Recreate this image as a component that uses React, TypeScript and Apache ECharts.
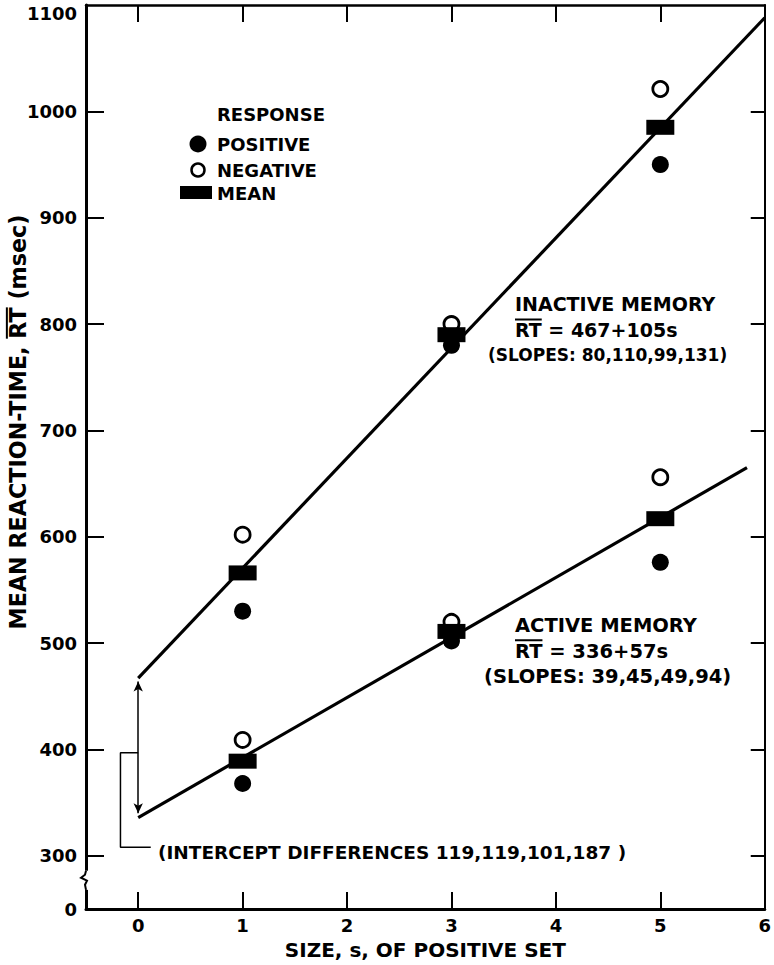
import React, { useEffect, useRef } from "react";
import * as echarts from "echarts";

// ---- data ----
const setSizes = [1, 3, 5];
const inactivePositive = [530, 780, 950];
const inactiveNegative = [602, 800, 1021];
const inactiveMean = [566, 790, 985];
const activePositive = [368, 502, 576];
const activeNegative = [409, 520, 656];
const activeMean = [389, 511, 617];
const inactiveLineS = [0, 6];
const inactiveLineRT = [467, 1088];
const activeLineS = [0, 5.83];
const activeLineRT = [336, 665];
const interceptArrowRT = [464, 340];
const bracketS = [0, -0.17, -0.17, 0.12];
const bracketRT = [397, 397, 308, 308];
const xTickValues = [0, 1, 2, 3, 4, 5, 6];
const yTickValues = [300, 400, 500, 600, 700, 800, 900, 1000];
const yLabelValues = [250, 300, 400, 500, 600, 700, 800, 900, 1000];
const yBreakValue = 250;
const yBreakLabel = "0";
const yTopLabel = "1100";

const FONT = "DejaVu Sans";

function measure(text: string, size: number): number {
  const ctx = document.createElement("canvas").getContext("2d")!;
  ctx.font = `bold ${size}px '${FONT}'`;
  return ctx.measureText(text).width;
}

function pairs(xs: number[], ys: number[]) {
  return xs.map((x, i) => [x, ys[i]]);
}

export default function App() {
  const ref = useRef<HTMLDivElement>(null);
  useEffect(() => {
    if (!ref.current) return;
    const chart = echarts.init(ref.current, null, { renderer: "svg" });
    const black = "#000";
    const labelStyle = { color: black, fontFamily: FONT, fontWeight: "bold" as const, fontSize: 18 };
    const option: any = {
      animation: false,
      backgroundColor: "#fff",
      grid: { left: 86, right: 2, top: 5, bottom: 52 },
      xAxis: [
        {
          type: "value", min: -0.5, max: 6, position: "bottom",
          axisLine: { onZero: false, lineStyle: { color: black, width: 3 } },
          axisTick: { show: true, inside: true, length: 17, customValues: xTickValues, lineStyle: { color: black, width: 2 } },
          axisLabel: { ...labelStyle, customValues: xTickValues, margin: 7 },
          splitLine: { show: false },
          name: "SIZE, s, OF POSITIVE SET", nameLocation: "middle", nameGap: 31,
          nameTextStyle: { ...labelStyle, fontSize: 20 },
        },
        {
          type: "value", min: -0.5, max: 6, position: "top",
          axisLine: { onZero: false, lineStyle: { color: black, width: 2.5 } },
          axisTick: { show: true, inside: true, length: 17, customValues: xTickValues, lineStyle: { color: black, width: 2 } },
          axisLabel: { show: false },
          splitLine: { show: false },
        },
      ],
      yAxis: [
        {
          type: "value", min: 250, max: 1100, position: "left",
          axisLine: { onZero: false, lineStyle: { color: black, width: 3 } },
          axisTick: { show: true, inside: true, length: 18, customValues: yTickValues, lineStyle: { color: black, width: 2 } },
          axisLabel: {
            ...labelStyle, customValues: yLabelValues, margin: 9,
            formatter: (v: number) => (v === yBreakValue ? yBreakLabel : String(v)),
          },
          splitLine: { show: false },
        },
        {
          type: "value", min: 250, max: 1100, position: "right",
          axisLine: { onZero: false, lineStyle: { color: black, width: 2 } },
          axisTick: { show: true, inside: true, length: 14, customValues: yTickValues, lineStyle: { color: black, width: 2 } },
          axisLabel: { show: false },
          splitLine: { show: false },
        },
      ],
      series: [
        {
          name: "NEGATIVE", type: "scatter", z: 2, symbol: "circle", symbolSize: 15,
          itemStyle: { color: "#fff", borderColor: black, borderWidth: 2.8, opacity: 1 },
          data: [...pairs(setSizes, inactiveNegative), ...pairs(setSizes, activeNegative)],
        },
        {
          name: "POSITIVE", type: "scatter", z: 3, symbol: "circle", symbolSize: 17,
          itemStyle: { color: black, opacity: 1 },
          data: [...pairs(setSizes, inactivePositive), ...pairs(setSizes, activePositive)],
        },
        {
          name: "MEAN", type: "scatter", z: 4, symbol: "rect", symbolSize: [28, 15],
          itemStyle: { color: black, opacity: 1 },
          data: [...pairs(setSizes, inactiveMean), ...pairs(setSizes, activeMean)],
        },
        {
          name: "INACTIVE MEMORY", type: "line", z: 5, showSymbol: false, symbol: "none",
          lineStyle: { color: black, width: 3.2 },
          data: pairs(inactiveLineS, inactiveLineRT),
        },
        {
          name: "ACTIVE MEMORY", type: "line", z: 5, showSymbol: false, symbol: "none",
          lineStyle: { color: black, width: 3.2 },
          data: pairs(activeLineS, activeLineRT),
          markLine: {
            silent: true, symbol: ["arrow", "arrow"], symbolSize: [7, 10],
            label: { show: false },
            lineStyle: { color: black, width: 1.5, type: "solid" },
            data: [[{ coord: [0, interceptArrowRT[0]] }, { coord: [0, interceptArrowRT[1]] }]],
          },
        },
        {
          name: "INTERCEPT", type: "line", z: 5, showSymbol: false, symbol: "none",
          lineStyle: { color: black, width: 1.5 },
          data: pairs(bracketS, bracketRT),
        },
      ],
    };
    chart.setOption(option);

    const px = (s: number, v: number) => chart.convertToPixel({ gridIndex: 0 }, [s, v]) as number[];
    const axisX = px(-0.5, 300)[0];
    const bTop = px(0, 286)[1];
    const bBot = px(0, 268)[1];

    const t = (text: string, left: number, y: number, size = 18, align = "left") => ({
      type: "text", x: left, y,
      style: { text, fill: black, font: `bold ${size}px '${FONT}'`, align, verticalAlign: "middle" },
    });
    const overline = (left: number, y: number, size: number) => ({
      type: "line",
      shape: { x1: left, y1: y - size * 0.5 - 1, x2: left + measure("RT", size), y2: y - size * 0.5 - 1 },
      style: { stroke: black, lineWidth: 2 },
    });

    const yTitle = "MEAN REACTION-TIME, RT (msec)";
    const ySize = (415 / measure(yTitle, 100)) * 100;
    const W = measure(yTitle, ySize);
    const P = measure("MEAN REACTION-TIME, ", ySize);
    const R = measure("RT", ySize);

    const graphic: any[] = [
      // legend
      t("RESPONSE", 217, 114),
      { type: "circle", shape: { cx: 198, cy: 144, r: 8.5 }, style: { fill: black } },
      t("POSITIVE", 217, 144),
      { type: "circle", shape: { cx: 198, cy: 170, r: 6.5 }, style: { fill: "#fff", stroke: black, lineWidth: 2.5 } },
      t("NEGATIVE", 217, 170),
      { type: "rect", shape: { x: 180, y: 186, width: 32, height: 13 }, style: { fill: black } },
      t("MEAN", 217, 193),
      // inactive annotation
      t("INACTIVE MEMORY", 515, 304, 19),
      t("RT = 467+105s", 515, 330, 19),
      overline(515, 330, 19),
      t("(SLOPES: 80,110,99,131)", 488, 355, 17),
      // active annotation
      t("ACTIVE MEMORY", 515, 625, 19.5),
      t("RT = 336+57s", 515, 651, 19.5),
      overline(515, 651, 19.5),
      t("(SLOPES: 39,45,49,94)", 484, 676, 19.5),
      // intercept
      t("(INTERCEPT DIFFERENCES 119,119,101,187 )", 158, 852, 18.5),
      // top y label
      t(yTopLabel, 77, 13, 18, "right"),
      // y title
      {
        type: "group", x: 18, y: 422, rotation: Math.PI / 2,
        children: [
          { type: "text", x: 0, y: 0, style: { text: yTitle, fill: black, font: `bold ${ySize}px '${FONT}'`, align: "center", verticalAlign: "middle" } },
          {
            type: "line",
            shape: { x1: -W / 2 + P, y1: -ySize * 0.5, x2: -W / 2 + P + R, y2: -ySize * 0.5 },
            style: { stroke: black, lineWidth: 2 },
          },
        ],
      },
      // axis break
      { type: "rect", z: 100, shape: { x: axisX - 4, y: bTop, width: 8, height: bBot - bTop }, style: { fill: "#fff" } },
      {
        type: "polyline", z: 101,
        shape: {
          points: [
            [axisX, bTop], [axisX - 1, bTop + 4], [axisX - 5, bTop + 7], [axisX + 1, bTop + 10],
            [axisX - 1, bTop + 14], [axisX, bBot],
          ],
        },
        style: { stroke: black, lineWidth: 2, fill: "none" },
      },
    ];
    chart.setOption({ graphic });

    return () => chart.dispose();
  }, []);
  return <div ref={ref} style={{ position: "fixed", left: 0, top: 0, width: 774, height: 965 }} />;
}
